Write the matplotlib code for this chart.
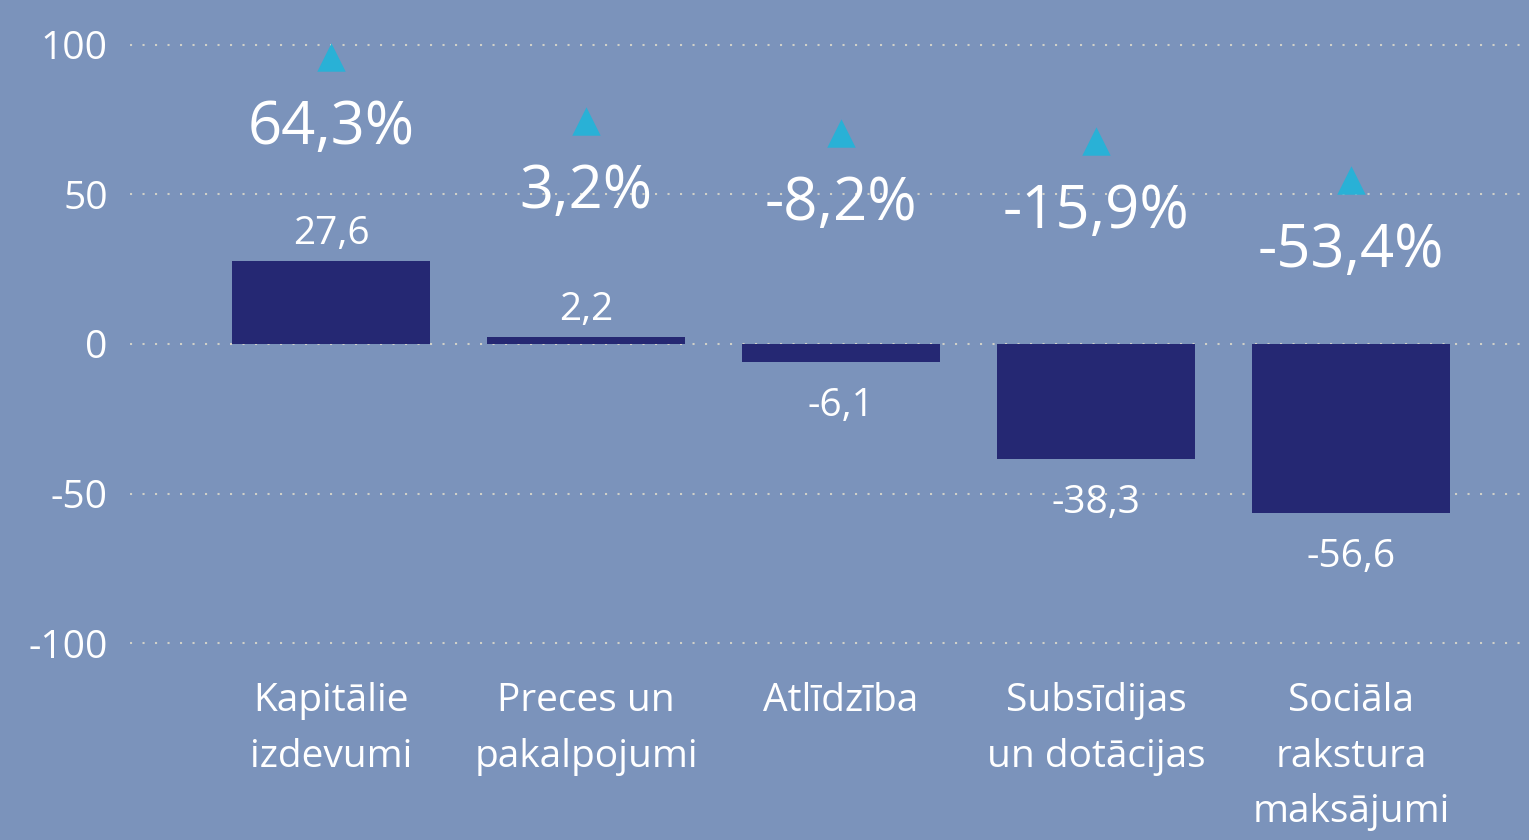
import matplotlib.pyplot as plt
import numpy as np

# Dati del grafico
kategorijas = ["Kapitālie\nizdevumi", "Preces un\npakalpojumi", "Atlīdzība",
               "Subsīdijas\nun dotācijas", "Sociāla\nrakstura\nmaksājumi"]
vertibas = [27.6, 2.2, -6.1, -38.3, -56.6]
izmaina_pct = [64.3, 3.2, -8.2, -15.9, -53.4]
trijsturi = [96, 74.5, 70.5, 68, 55]   # posizione dei triangoli (scala asse y)

fondo = "#7b93bb"
colore_barre = "#252873"
colore_tri = "#29b1d6"

plt.rcParams["font.family"] = ["Open Sans", "DejaVu Sans"]

fig = plt.figure(figsize=(15.29, 8.4), dpi=100, facecolor=fondo)
ax = fig.add_axes([130 / 1529, 1 - 667 / 840, 1 - 130 / 1529, 646 / 840])
ax.set_facecolor(fondo)

x = np.arange(len(kategorijas))
ax.bar(x, vertibas, width=0.776, color=colore_barre, zorder=3)
ax.scatter(x, trijsturi, marker="^", s=420, color=colore_tri, zorder=4, linewidths=0)

# Etichette dei valori delle barre
for xi, v in zip(x, vertibas):
    testo = f"{v:.1f}".replace(".", ",")
    if v >= 0:
        ax.annotate(testo, (xi, v), xytext=(0, 27), textcoords="offset pixels",
                    ha="center", va="center", color="white", fontsize=28)
    else:
        ax.annotate(testo, (xi, v), xytext=(0, -44), textcoords="offset pixels",
                    ha="center", va="center", color="white", fontsize=28)

# Etichette percentuali sotto i triangoli
for xi, t, p in zip(x, trijsturi, izmaina_pct):
    testo = f"{p:.1f}%".replace(".", ",")
    ax.annotate(testo, (xi, t), xytext=(0, -71), textcoords="offset pixels",
                ha="center", va="center", color="white", fontsize=43)

ax.set_xlim(-0.788, 4.698)
ax.set_ylim(-108, 108)
ax.set_yticks([-100, -50, 0, 50, 100])
ax.set_yticklabels(["-100", "-50", "0", "50", "100"])
ax.set_xticks(x)
ax.set_xticklabels(kategorijas, linespacing=1.6)
ax.tick_params(axis="y", length=0, pad=16, labelsize=28, labelcolor="white")
ax.tick_params(axis="x", length=0, pad=11, labelsize=28, labelcolor="white")

ax.grid(axis="y", color="#d0d0c8", linestyle=(0, (1, 5)), linewidth=1.5, zorder=1)
ax.grid(axis="x", visible=False)
for s in ax.spines.values():
    s.set_visible(False)

plt.savefig("out.png", dpi=100, facecolor=fondo)
